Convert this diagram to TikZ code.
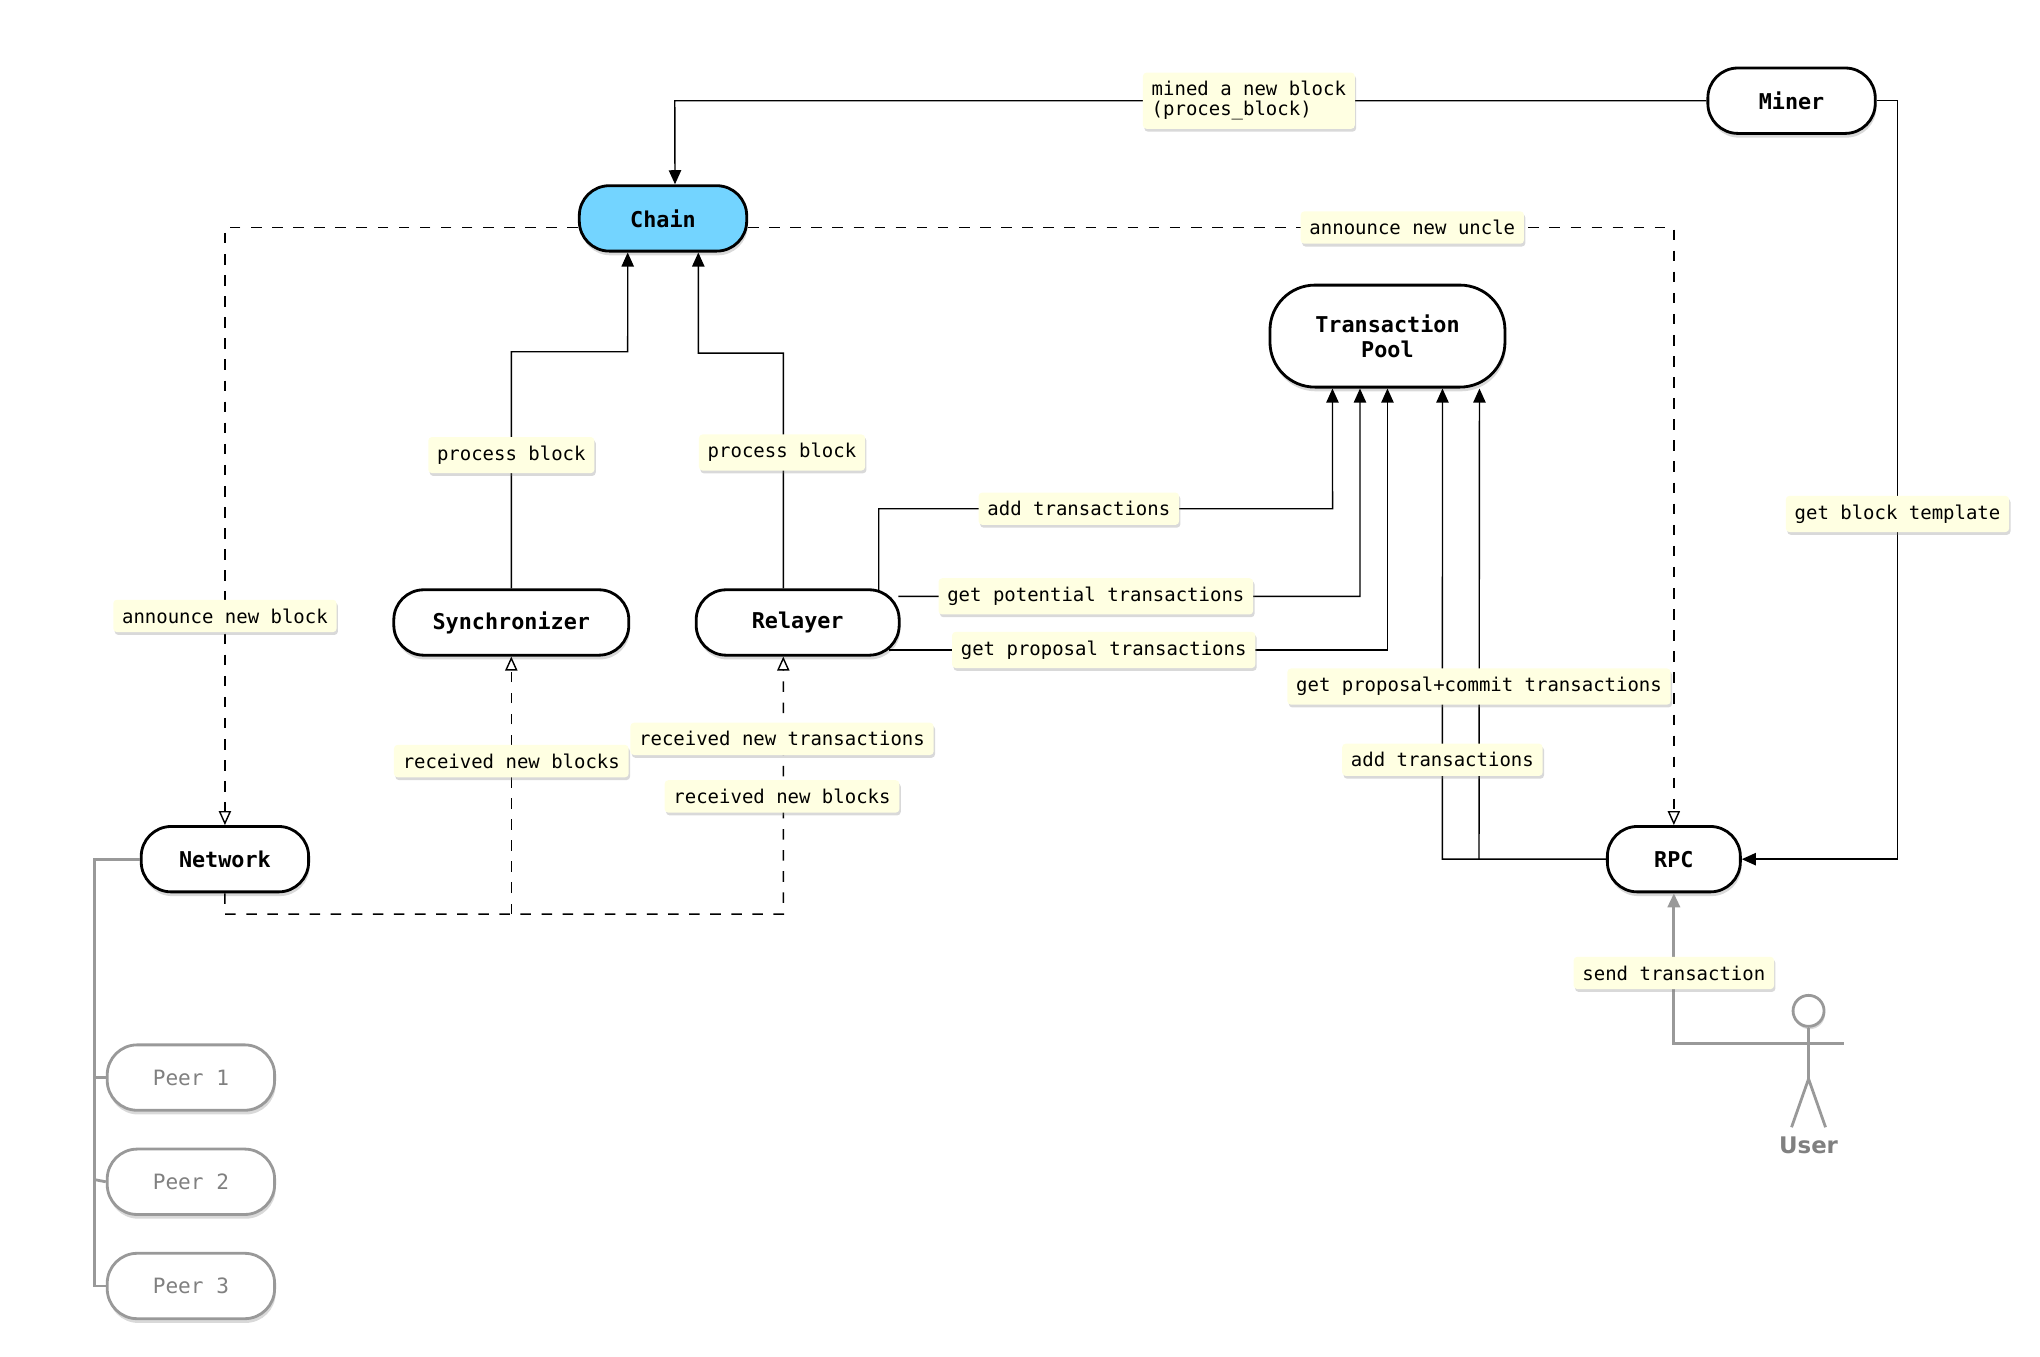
\documentclass[tikz,border=0pt]{standalone}
\usepackage{fontspec}
\setmonofont{DejaVu Sans Mono}
\setsansfont{DejaVu Sans}
\usetikzlibrary{arrows.meta,shadows,positioning}
\definecolor{chainblue}{RGB}{115,212,255}
\definecolor{notebg}{RGB}{255,255,226}
\tikzset{
  comp/.style={rectangle,rounded corners=0.3cm,draw=black,thick,fill=white,
    minimum height=0.654cm,font=\ttfamily\bfseries\fontsize{6.2}{7}\selectfont,
    drop shadow={shadow xshift=0.3pt,shadow yshift=-1.2pt,opacity=0.3}},
  peer/.style={comp,draw=gray!80,text=gray,font=\ttfamily\fontsize{6}{7}\selectfont,minimum width=1.674cm},
  lbl/.style={rectangle,rounded corners=1pt,fill=notebg,inner sep=2.5pt,align=left,
    font=\ttfamily\fontsize{5.4}{5.6}\selectfont,
    drop shadow={shadow xshift=0.4pt,shadow yshift=-0.8pt,opacity=0.3}},
  flow/.style={draw=black,-{Triangle[length=4pt,width=3.5pt]}},
  note/.style={draw=black,dashed,-{Triangle[open,length=4pt,width=3.5pt]}},
  grayl/.style={draw=gray!80,thick}
}
\begin{document}
\begin{tikzpicture}[x=0.013077cm,y=-0.013077cm]
\useasboundingbox (0,0) rectangle (1560,1037);
% components
\node[comp,fill=chainblue,minimum width=1.674cm](chain) at (507,167){Chain};
\node[comp,minimum width=1.674cm](miner) at (1370,77){Miner};
\node[comp,minimum width=2.35cm,minimum height=1.02cm,align=center,rounded corners=0.45cm](pool) at (1061,257){Transaction\\Pool};
\node[comp,minimum width=2.35cm](sync) at (391,476){Synchronizer};
\node[comp,minimum width=2.03cm](relay) at (610,476){Relayer};
\node[comp,minimum width=1.674cm](net) at (172,657){Network};
\node[comp,minimum width=1.33cm](rpc) at (1280,657){RPC};
\node[peer](p1) at (146,824){Peer 1};
\node[peer,below=0.36cm of p1](p2){Peer 2};
\node[peer,below=0.36cm of p2](p3){Peer 3};
% user
\node[circle,draw=gray!80,thick,fill=white,minimum size=0.31cm,inner sep=0pt,
  drop shadow={shadow xshift=0.3pt,shadow yshift=-0.8pt,opacity=0.3}](head) at (1383,773){};
\coordinate (arm) at (1357,798);
\draw[grayl] (arm) -- (1410,798);
\draw[grayl] (head.south) -- (1383,825) coordinate (hip);
\draw[grayl] (1370,862) -- (hip) -- (1396,862);
\node[text=gray,font=\sffamily\bfseries\fontsize{6.5}{7}\selectfont](user) at (1383,876){User};
% connectors
\draw[flow] (miner.west) -- (516,77) -- ([xshift=0.12cm]chain.north);
\draw[flow] (miner.east) -- (1451,77) -- (1451,657) -- (rpc.east);
\draw[note] ([yshift=-0.09cm]chain.west) -| (net.north);
\draw[note] ([yshift=-0.09cm]chain.east) -| (rpc.north);
\draw[flow] (sync.north) -- (391,269) -- (480,269) -- ([xshift=-0.353cm]chain.south);
\draw[flow] ([xshift=-0.144cm]relay.north) -- (599,270) -- (534,270) -- ([xshift=0.353cm]chain.south);
\draw[flow] (672,451) -- (672,389) -- (1019,389) -- ([xshift=-0.55cm]pool.south);
\draw[flow] (687,456) -- (1040,456) -- ([xshift=-0.275cm]pool.south);
\draw[flow] (680,497) -- (1061,497) -- (pool.south);
\draw[flow] (rpc.west) -- (1103,657) -- ([xshift=0.55cm]pool.south);
\draw[flow] (1131,657) -- ([xshift=0.92cm]pool.south);
\draw[note] (net.south) -- (172,699) -- (599,699) -- ([xshift=-0.144cm]relay.south);
\draw[note] (391,699) -- (sync.south);
\draw[grayl] (net.west) -- (72,657) |- (p3.west);
\draw[grayl] (72,824) -- (p1.west);
\draw[grayl] (72,902) -- (p2.west);
\draw[grayl,-{Triangle[length=4pt,width=3.5pt]},gray!80] (arm) -- (1280,798) -- (rpc.south);
% labels
\node[lbl] at (955,77){mined a new block\\(proces\_block)};
\node[lbl] at (1451,393){get block template};
\node[lbl] at (172,471){announce new block};
\node[lbl] at (1080,174){announce new uncle};
\node[lbl] at (391,348){process block};
\node[lbl] at (598,346){process block};
\node[lbl] at (825,389){add transactions};
\node[lbl] at (838,456){get potential transactions};
\node[lbl] at (844,497){get proposal transactions};
\node[lbl] at (1131,525){get proposal+commit transactions};
\node[lbl] at (1103,581){add transactions};
\node[lbl] at (391,582){received new blocks};
\node[lbl] at (598,565){received new transactions};
\node[lbl] at (598,609){received new blocks};
\node[lbl] at (1280,744){send transaction};
\end{tikzpicture}
\end{document}
